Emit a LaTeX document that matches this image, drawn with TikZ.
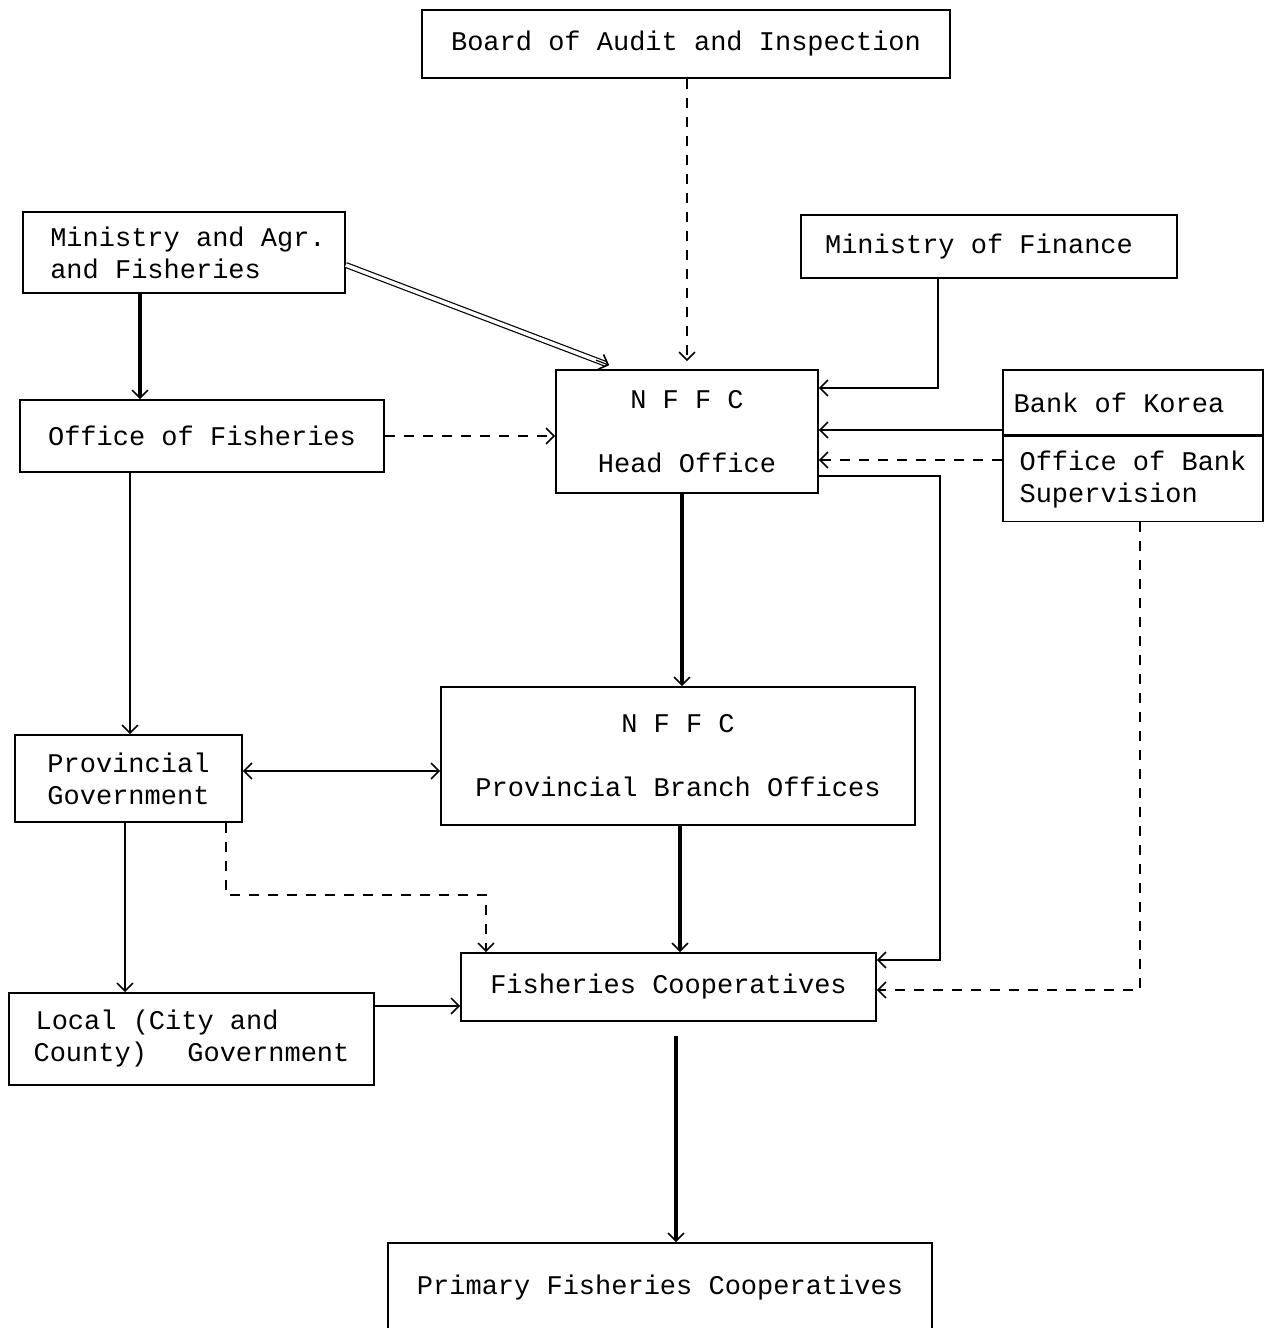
\documentclass[tikz,border=0pt]{standalone}
\usepackage{fontspec}
\setmainfont{Liberation Mono}
\usetikzlibrary{positioning,arrows.meta,calc}

\tikzset{
  box/.style={draw, rectangle, inner sep=0pt, align=left, line width=0.8pt},
  tip/.style={-{Straight Barb[length=4pt,width=8pt,line width=0.8pt]}},
  biarrow/.style={{Straight Barb[length=4pt,width=8pt,line width=0.8pt]}-{Straight Barb[length=4pt,width=8pt,line width=0.8pt]}, line width=0.6pt},
  thinarrow/.style={tip, line width=0.6pt},
  heavy/.style={tip, line width=1.6pt},
  dbl/.style={double, double distance=1.8pt, line width=0.6pt},
  dashline/.style={tip, line width=0.7pt, dash pattern=on 5pt off 4.5pt}
}

\begin{document}
\begin{tikzpicture}[x=0.5pt, y=-0.5pt, font=\fontsize{13.5}{16}\selectfont]
\useasboundingbox (0,0) rectangle (1266,1328);
\fill[white] (0,0) rectangle (1266,1328);

% boxes
\node[box, minimum width=264pt, minimum height=34pt] (board) at (686,44) {Board of Audit and Inspection};
\node[box, minimum width=161pt, minimum height=40.5pt] (agr) at (184,252.5) {\hspace{4pt}Ministry and Agr.\\\hspace{4pt}and Fisheries};
\node[box, minimum width=188pt, minimum height=31.5pt] (fin) at (989,246.5) {Ministry of Finance\hspace{10pt}};
\node[box, minimum width=182pt, minimum height=36pt] (ofis) at (202,436) {Office of Fisheries};
\node[box, align=center, minimum width=131pt, minimum height=61.5pt] (head) at (687,431.5) {N F F C\\[16pt]Head Office};
\node[box, minimum width=130pt, minimum height=32.5pt] (bok) at (1133,402.5) {Bank of Korea\hspace{14pt}};
\node[box, minimum width=130pt, minimum height=42.5pt, below=0pt of bok] (sup) {Office of Bank\\Supervision\hspace{48pt}};
\node[box, align=center, minimum width=237pt, minimum height=69pt] (branch) at (678,756) {N F F C\\[16pt]Provincial Branch Offices};
\node[box, minimum width=113.5pt, minimum height=43.5pt] (prov) at (128.5,778.5) {Provincial\\Government};
\node[box, minimum width=207.5pt, minimum height=34pt] (coop) at (668.5,987) {Fisheries Cooperatives};
\node[box, minimum width=182.5pt, minimum height=46pt] (local) at (191.5,1039) {\hspace{1pt}Local (City and\\County)\ \ \hspace{4pt}Government};
\node[box, minimum width=272pt, minimum height=45pt] (prim) at (660,1288) {Primary Fisheries Cooperatives};

% connectors
\coordinate (dblend) at ([xshift=27pt,yshift=2pt]head.north west);
\draw[dashline, shorten >=4pt] (board.south -| 687,0) -- (head.north -| 687,0);
\draw[dbl, shorten >=2pt] (agr.east |- 0,265) -- (dblend);
\draw[thinarrow] ($(agr.east |- 0,265)!0.95!(dblend)$) -- (dblend);
\draw[heavy] (agr.south -| 140,0) -- (ofis.north -| 140,0);
\draw[thinarrow] (fin.south -| 938,0) |- (head.east |- 0,388);
\draw[thinarrow] (bok.west |- 0,430) -- (head.east |- 0,430);
\draw[dashline] (sup.west |- 0,460) -- (head.east |- 0,460);
\draw[dashline] (ofis.east |- 0,436) -- (head.west |- 0,436);
\draw[heavy] (head.south -| 682,0) -- (branch.north -| 682,0);
\draw[thinarrow] (head.east |- 0,476) -- (940,476) |- (coop.east |- 0,960);
\draw[dashline] (sup.south -| 1140,0) |- (coop.east |- 0,990);
\draw[thinarrow] (ofis.south -| 130,0) -- (prov.north -| 130,0);
\draw[biarrow] (prov.east |- 0,771) -- (branch.west |- 0,771);
\draw[thinarrow] (prov.south -| 125,0) -- (local.north -| 125,0);
\draw[dashline] (prov.south -| 226,0) -- (226,895) -| (coop.north -| 486,0);
\draw[heavy] (branch.south -| 680,0) -- (coop.north -| 680,0);
\draw[thinarrow] (local.east |- 0,1006) -- (coop.west |- 0,1006);
\draw[heavy, shorten <=7pt] (coop.south -| 676,0) -- (prim.north -| 676,0);
\end{tikzpicture}
\end{document}
